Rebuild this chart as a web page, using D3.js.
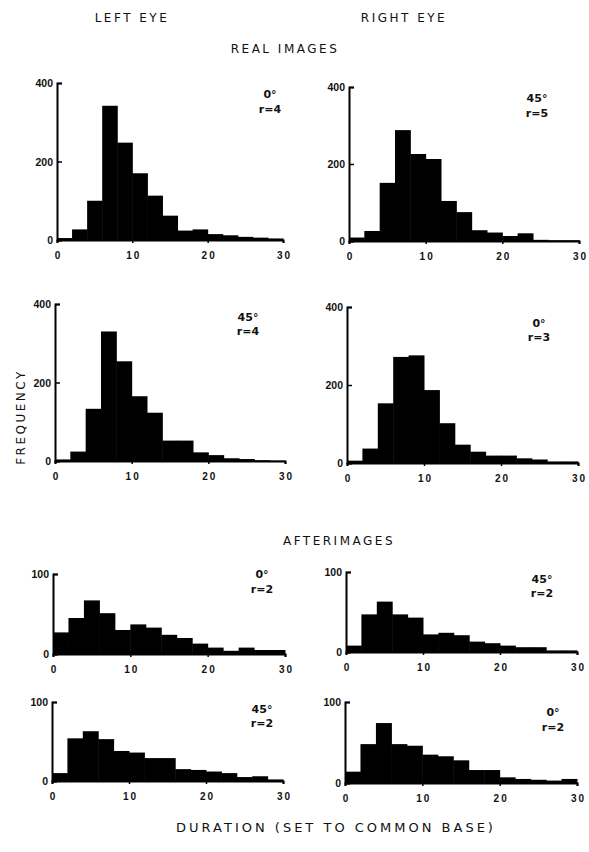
<!DOCTYPE html>
<html>
<head>
<meta charset="utf-8">
<script src="https://cdn.jsdelivr.net/npm/d3@7"></script>
<style>
  body { margin: 0; background: #fff; }
  svg { display: block; font-family: "DejaVu Sans", sans-serif; }
  .lbl { font-size: 12px; letter-spacing: 2.5px; fill: #111; }
  .lbl.wide { font-size: 13px; letter-spacing: 3px; }
  .tick text { font-size: 10.5px; font-weight: bold; fill: #111; }
  .xax .tick text { font-size: 10px; letter-spacing: 2px; }
  .ann { font-size: 11px; font-weight: bold; fill: #111; }
</style>
</head>
<body>
<div id="chart"></div>
<script>
// bins of duration (left edges, width 2)
const binEdges = [0, 2, 4, 6, 8, 10, 12, 14, 16, 18, 20, 22, 24, 26, 28, 30];
const xTicks = [0, 10, 20, 30];
const realTicks = [0, 200, 400];
const afterTicks = [0, 100];

// frequencies
const realLeft0   = [5, 27, 100, 342, 248, 170, 113, 62, 24, 27, 15, 12, 8, 6, 4];
const realRight45 = [9, 26, 151, 288, 226, 213, 104, 75, 28, 22, 13, 20, 3, 2, 2];
const realLeft45  = [4, 24, 133, 330, 254, 165, 123, 52, 52, 22, 15, 7, 5, 2, 1];
const realRight0  = [6, 37, 153, 272, 276, 187, 102, 47, 29, 19, 19, 12, 9, 4, 4];
const afterLeft0   = [27, 45, 67, 51, 30, 37, 33, 24, 20, 13, 8, 4, 8, 5, 5];
const afterRight45 = [8, 47, 63, 47, 43, 22, 24, 21, 13, 11, 8, 6, 6, 2, 2];
const afterLeft45  = [10, 54, 63, 53, 38, 36, 29, 29, 15, 14, 12, 10, 5, 6, 2];
const afterRight0  = [14, 48, 74, 48, 46, 35, 33, 28, 16, 16, 7, 5, 4, 3, 5];

const angles = ['0°', '45°', '45°', '0°', '0°', '45°', '45°', '0°'];
const rLabels = ['r=4', 'r=5', 'r=4', 'r=3', 'r=2', 'r=2', 'r=2', 'r=2'];

// layout of each panel (pixels)
const panels = [
  { data: realLeft0,    x0: 57,  x1: 283, y0: 240, y1: 83,  max: 400, ticks: realTicks,  ax: 270, ay: 98,  ry: 113 },
  { data: realRight45,  x0: 349, x1: 579, y0: 241, y1: 87,  max: 400, ticks: realTicks,  ax: 537, ay: 102, ry: 117 },
  { data: realLeft45,   x0: 55,  x1: 285, y0: 461, y1: 304, max: 400, ticks: realTicks,  ax: 248, ay: 321, ry: 335 },
  { data: realRight0,   x0: 347, x1: 578, y0: 463, y1: 307, max: 400, ticks: realTicks,  ax: 539, ay: 327, ry: 341 },
  { data: afterLeft0,   x0: 53,  x1: 285, y0: 654, y1: 574, max: 100, ticks: afterTicks, ax: 262, ay: 578, ry: 593 },
  { data: afterRight45, x0: 346, x1: 577, y0: 652, y1: 572, max: 100, ticks: afterTicks, ax: 542, ay: 583, ry: 597 },
  { data: afterLeft45,  x0: 52,  x1: 283, y0: 781, y1: 702, max: 100, ticks: afterTicks, ax: 262, ay: 713, ry: 727 },
  { data: afterRight0,  x0: 345, x1: 577, y0: 783, y1: 702, max: 100, ticks: afterTicks, ax: 553, ay: 716, ry: 731 }
];

const svg = d3.select('#chart').append('svg')
  .attr('width', 589)
  .attr('height', 852);

// headings
const heads = [
  { t: 'LEFT EYE', x: 132, y: 22, c: 'lbl' },
  { t: 'RIGHT EYE', x: 404, y: 22, c: 'lbl' },
  { t: 'REAL IMAGES', x: 285, y: 53, c: 'lbl' },
  { t: 'AFTERIMAGES', x: 339, y: 545, c: 'lbl' },
  { t: 'DURATION  (SET TO COMMON BASE)', x: 336, y: 832, c: 'lbl wide' }
];
svg.selectAll('text.head').data(heads).enter().append('text')
  .attr('class', d => d.c + ' head')
  .attr('x', d => d.x).attr('y', d => d.y)
  .attr('text-anchor', 'middle')
  .text(d => d.t);

svg.append('text')
  .attr('class', 'lbl')
  .attr('transform', 'translate(25,417) rotate(-90)')
  .attr('text-anchor', 'middle')
  .text('FREQUENCY');

panels.forEach((p, i) => {
  const x = d3.scaleLinear().domain([0, 30]).range([p.x0, p.x1]);
  const y = d3.scaleLinear().domain([0, p.max]).range([p.y0, p.y1]);
  const g = svg.append('g');

  g.selectAll('rect').data(p.data).enter().append('rect')
    .attr('x', (d, j) => x(binEdges[j]))
    .attr('width', (d, j) => x(binEdges[j + 1]) - x(binEdges[j]) + 0.5)
    .attr('y', d => y(d))
    .attr('height', d => y(0) - y(d))
    .attr('fill', '#000');

  const xa = g.append('g')
    .attr('class', 'xax')
    .attr('transform', `translate(0,${p.y0})`)
    .call(d3.axisBottom(x).tickValues(xTicks).tickSize(3).tickPadding(9).tickFormat(d3.format('d')));
  xa.selectAll('.tick text').attr('dx', '1px');
  const ya = g.append('g')
    .attr('transform', `translate(${p.x0},0)`)
    .call(d3.axisLeft(y).tickValues(p.ticks).tickSize(-5).tickPadding(4).tickFormat(d3.format('d')));
  [xa, ya].forEach(a => {
    a.select('.domain').attr('stroke', '#000').attr('stroke-width', 2);
    a.selectAll('.tick line').attr('stroke', '#000').attr('stroke-width', 1.5);
  });
  ya.selectAll('.tick text').attr('dy', '0.35em');

  g.append('text').attr('class', 'ann')
    .attr('x', p.ax).attr('y', p.ay)
    .attr('text-anchor', 'middle')
    .text(angles[i]);
  g.append('text').attr('class', 'ann')
    .attr('x', p.ax).attr('y', p.ry)
    .attr('text-anchor', 'middle')
    .text(rLabels[i]);
});
</script>
</body>
</html>
